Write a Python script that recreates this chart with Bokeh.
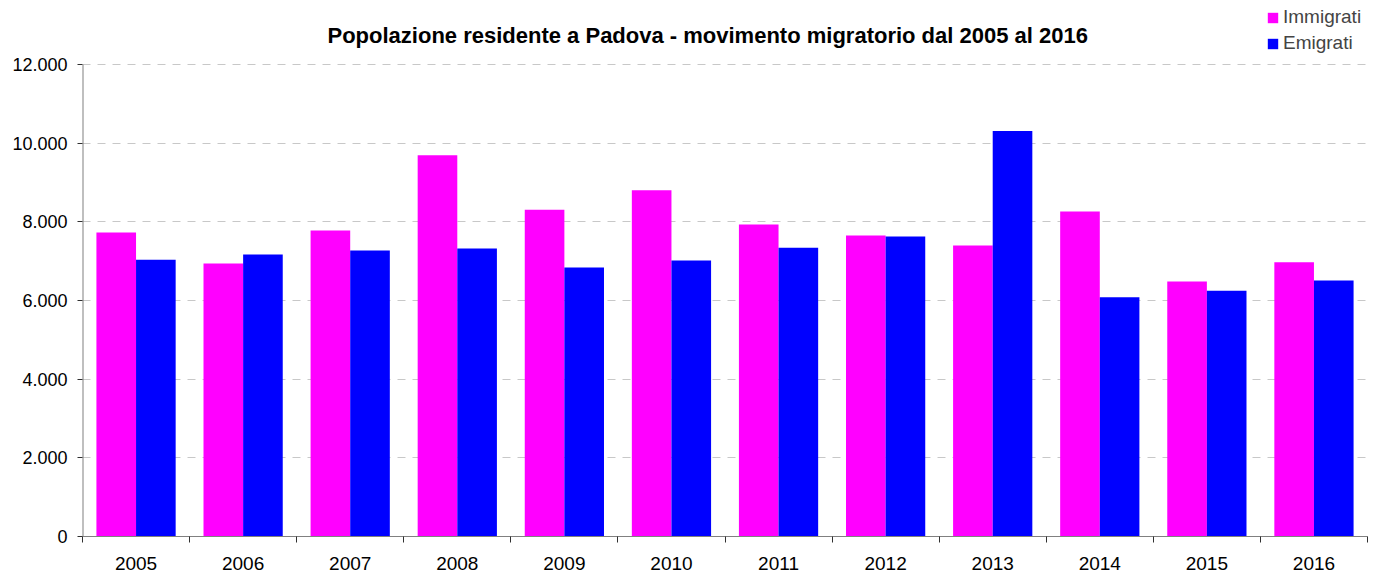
from bokeh.plotting import figure
from bokeh.models import FixedTicker, Legend, LegendItem, Range1d, Label
from bokeh.embed import file_html
from bokeh.resources import INLINE

years = ["2005", "2006", "2007", "2008", "2009", "2010", "2011", "2012", "2013", "2014", "2015", "2016"]
immigrati = [7730, 6940, 7780, 9690, 8310, 8800, 7930, 7650, 7400, 8260, 6480, 6970]
emigrati = [7035, 7170, 7270, 7320, 6840, 7020, 7340, 7630, 10310, 6080, 6250, 6510]
y_ticks = [0, 2000, 4000, 6000, 8000, 10000, 12000]
y_tick_labels = ["0", "2.000", "4.000", "6.000", "8.000", "10.000", "12.000"]
series_names = ["Immigrati", "Emigrati"]
title_text = "Popolazione residente a Padova - movimento migratorio dal 2005 al 2016"

FONT = "Liberation Sans"
n = len(years)
centers = [i + 0.5 for i in range(n)]
bw = 0.37

# frame extends to the top so that the legend (which overlaps the title area) is not clipped
FRAME_TOP, AXIS_TOP, FRAME_BOTTOM = 4, 64, 536
y_end = y_ticks[-1] * (FRAME_BOTTOM - FRAME_TOP) / (FRAME_BOTTOM - AXIS_TOP)

p = figure(width=1368, height=574, output_backend="svg", toolbar_location=None,
           x_range=Range1d(0, n), y_range=Range1d(0, y_end),
           min_border_left=82, min_border_right=1, min_border_top=FRAME_TOP,
           min_border_bottom=38)
p.outline_line_color = None
p.background_fill_color = "white"
p.border_fill_color = "white"

r1 = p.vbar(x=[c - bw / 2 for c in centers], top=immigrati, width=bw, bottom=0,
            fill_color="#FF00FF", line_color=None)
r2 = p.vbar(x=[c + bw / 2 for c in centers], top=emigrati, width=bw, bottom=0,
            fill_color="#0000FF", line_color=None)

# y axis line limited to the tick span
p.line(x=[0, 0], y=[y_ticks[0], y_ticks[-1]], line_color="#808080", line_width=2)

# axes
p.xaxis.ticker = FixedTicker(ticks=centers, minor_ticks=list(range(n + 1)))
p.xaxis.major_label_overrides = {c: y for c, y in zip(centers, years)}
p.xaxis.major_tick_out = 0
p.xaxis.major_tick_in = 0
p.xaxis.minor_tick_out = 6
p.xaxis.minor_tick_in = 0
p.xaxis.minor_tick_line_color = "#303030"
p.xaxis.axis_line_color = "#808080"
p.xaxis.major_label_text_font = FONT
p.xaxis.major_label_text_font_size = "19px"
p.xaxis.major_label_text_color = "black"
p.xaxis.major_label_standoff = 14

p.yaxis.ticker = FixedTicker(ticks=y_ticks, minor_ticks=[])
p.yaxis.major_label_overrides = {v: s for v, s in zip(y_ticks, y_tick_labels)}
p.yaxis.major_tick_out = 5
p.yaxis.major_tick_in = 0
p.yaxis.major_tick_line_color = "#303030"
p.yaxis.axis_line_color = None
p.yaxis.major_label_text_font = FONT
p.yaxis.major_label_text_font_size = "18px"
p.yaxis.major_label_text_color = "black"
p.yaxis.major_label_standoff = 10

p.xgrid.grid_line_color = None
p.ygrid.grid_line_color = "#c8c8c8"
p.ygrid.grid_line_dash = "8 7"
p.ygrid.grid_line_width = 1

title = Label(text=title_text, x=245, y=FRAME_BOTTOM - 35, x_units="screen", y_units="screen",
              text_font=FONT, text_font_size="22px", text_font_style="bold",
              text_color="black", text_baseline="alphabetic", text_align="left")
p.add_layout(title)

legend = Legend(items=[LegendItem(label=series_names[0], renderers=[r1]),
                       LegendItem(label=series_names[1], renderers=[r2])],
                location=(1184, 482), orientation="vertical",
                glyph_width=13, glyph_height=13, label_text_font=FONT,
                label_text_font_size="19px", label_height=19, spacing=4,
                padding=0, margin=0, label_standoff=4,
                border_line_color=None, background_fill_alpha=0)
p.add_layout(legend, "center")

open("out.html", "w").write(file_html(p, INLINE))
